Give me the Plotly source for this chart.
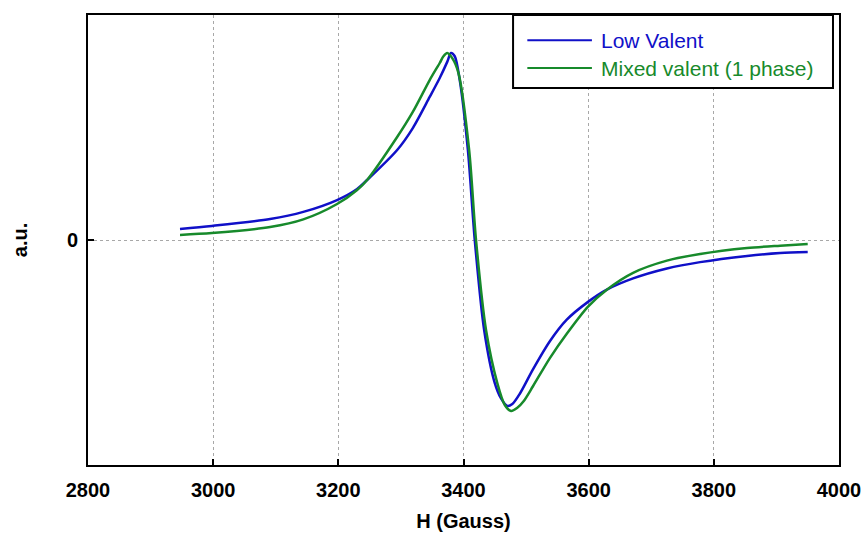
import plotly.graph_objects as go

# Data
h_low = [2947, 2998, 3091, 3144, 3198, 3230, 3246, 3294, 3319, 3346, 3362, 3374, 3380, 3386,
         3394, 3407, 3418, 3433, 3450, 3460, 3470, 3478, 3490, 3511, 3538, 3565, 3599, 3629,
         3671, 3725, 3778, 3853, 3906, 3950]
y_low = [0.059, 0.075, 0.112, 0.15, 0.213, 0.272, 0.32, 0.48, 0.597, 0.763, 0.864, 0.95, 0.997, 0.98,
         0.853, 0.48, 0.0, -0.48, -0.763, -0.845, -0.885, -0.875, -0.82, -0.69, -0.54, -0.425, -0.33, -0.265,
         -0.205, -0.152, -0.118, -0.085, -0.069, -0.064]

h_mix = [2947, 2998, 3091, 3144, 3198, 3230, 3246, 3294, 3319, 3346, 3362, 3368, 3374, 3382,
         3392, 3409, 3420, 3436, 3454, 3466, 3476, 3486, 3496, 3511, 3538, 3565, 3599, 3629,
         3671, 3725, 3778, 3853, 3906, 3950]
y_mix = [0.027, 0.037, 0.069, 0.11, 0.192, 0.267, 0.32, 0.549, 0.683, 0.853, 0.944, 0.98, 0.997, 0.97,
         0.89, 0.48, 0.0, -0.48, -0.763, -0.88, -0.912, -0.895, -0.86, -0.78, -0.63, -0.5, -0.355, -0.265,
         -0.175, -0.11, -0.075, -0.043, -0.03, -0.021]

series_names = ["Low Valent", "Mixed valent (1 phase)"]
series_colors = ["#1010c8", "#178a2b"]

x_ticks = [2800, 3000, 3200, 3400, 3600, 3800, 4000]

fig = go.Figure()
fig.add_trace(go.Scatter(x=h_low, y=y_low, mode="lines", name=series_names[0],
                         line=dict(color=series_colors[0], width=2.5, shape="spline", smoothing=0.8),
                         showlegend=False))
fig.add_trace(go.Scatter(x=h_mix, y=y_mix, mode="lines", name=series_names[1],
                         line=dict(color=series_colors[1], width=2.5, shape="spline", smoothing=0.8),
                         showlegend=False))

font_family = "Liberation Sans, Arial, sans-serif"

fig.update_layout(
    width=868, height=545,
    margin=dict(l=88, r=29, t=15, b=80, autoexpand=False),
    paper_bgcolor="white", plot_bgcolor="white",
    font=dict(family=font_family, color="black"),
    xaxis=dict(range=[2800, 4000], tickvals=x_ticks, ticktext=[str(v) for v in x_ticks],
               showgrid=True, gridcolor="#a8a8a8", griddash="dot", gridwidth=1,
               showline=True, linecolor="black", linewidth=2, mirror=True,
               ticks="inside", ticklen=6, tickcolor="black", tickwidth=2,
               ticklabelstandoff=6, automargin=False,
               tickfont=dict(size=20, family=font_family, weight="bold"),
               title=dict(text="<b>H (Gauss)</b>", font=dict(size=20), standoff=14),
               zeroline=False),
    yaxis=dict(range=[-1.2, 1.2], tickvals=[0], ticktext=["0"],
               showgrid=True, gridcolor="#a8a8a8", griddash="dot", gridwidth=1,
               showline=True, linecolor="black", linewidth=2, mirror=True,
               ticks="inside", ticklen=6, tickcolor="black", tickwidth=2,
               ticklabelstandoff=4, automargin=False,
               tickfont=dict(size=20, family=font_family, weight="bold"),
               title=dict(text="<b>a.u.</b>", font=dict(size=20), standoff=34),
               zeroline=False),
)

# Legend drawn as a boxed key
lx0, lx1, ly0, ly1 = 0.566, 0.992, 0.838, 1.0
fig.add_shape(type="rect", xref="paper", yref="paper", x0=lx0, x1=lx1, y0=ly0, y1=ly1,
              line=dict(color="black", width=2), fillcolor="white", layer="above")
rows_y = [0.944, 0.882]
for name, col, yy in zip(series_names, series_colors, rows_y):
    fig.add_shape(type="line", xref="paper", yref="paper", x0=0.585, x1=0.671, y0=yy, y1=yy,
                  line=dict(color=col, width=2), layer="above")
    fig.add_annotation(xref="paper", yref="paper", x=0.680, y=yy, text=name, showarrow=False,
                       xanchor="left", yanchor="middle",
                       font=dict(size=21, color=col, family=font_family))

fig.write_html("out.html", config={"displayModeBar": False},
               post_script="document.body.style.margin='0';document.body.style.overflow='hidden';")
